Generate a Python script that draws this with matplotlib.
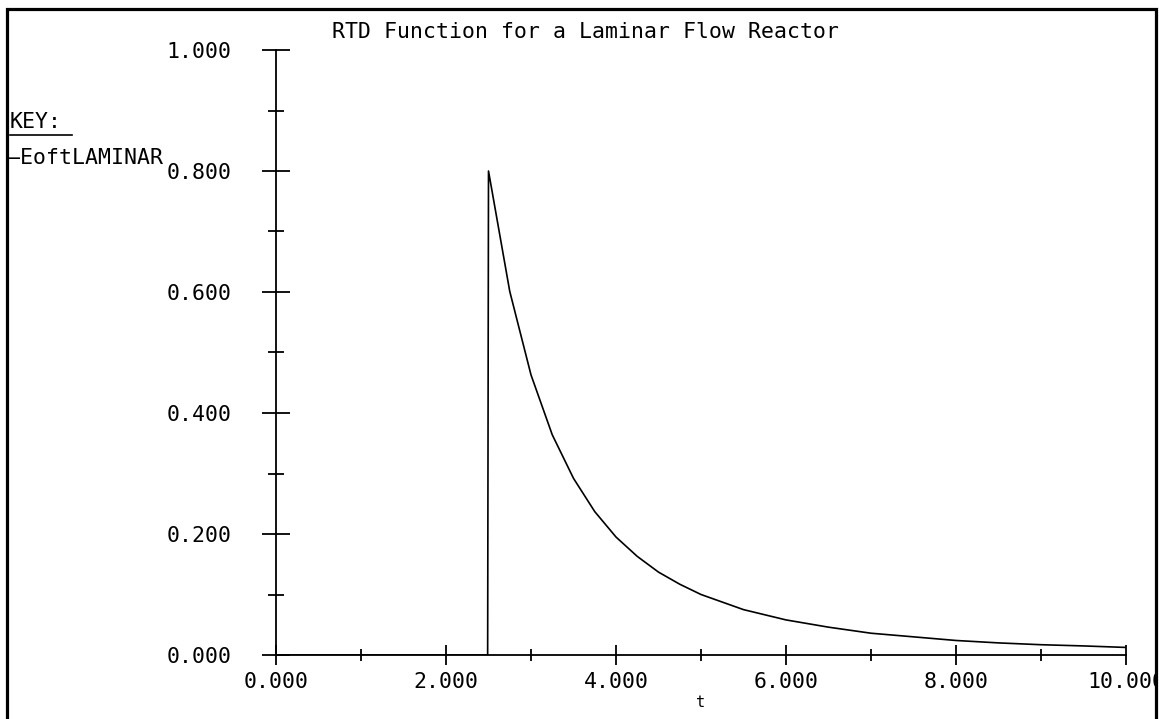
import matplotlib
matplotlib.use("Agg")
import matplotlib.pyplot as plt
from matplotlib.patches import Rectangle
from matplotlib.ticker import MultipleLocator, FormatStrFormatter

# values
t = [0.0, 2.49, 2.5, 2.75, 3.0, 3.25, 3.5, 3.75, 4.0, 4.25, 4.5, 4.75, 5.0,
     5.5, 6.0, 6.5, 7.0, 7.5, 8.0, 8.5, 9.0, 9.5, 10.0]
E = [0.0, 0.0, 0.800, 0.601, 0.463, 0.364, 0.292, 0.237, 0.195, 0.163, 0.137,
     0.117, 0.100, 0.075, 0.058, 0.046, 0.036, 0.030, 0.024, 0.020, 0.017,
     0.015, 0.0125]

title = "RTD Function for a Laminar Flow Reactor"
series_name = "EoftLAMINAR"
xlabel = "t"

font = "DejaVu Sans Mono"
fs = 15.5

W, H = 1159, 719
fig = plt.figure(figsize=(W/100, H/100), dpi=100)
ax = fig.add_axes([276/W, 64/H, 850/W, 605/H])

ax.plot(t, E, color="black", lw=1.2)

ax.set_xlim(0, 10)
ax.set_ylim(0, 1)
ax.spines["top"].set_visible(False)
ax.spines["right"].set_visible(False)
ax.spines["left"].set_linewidth(1.3)
ax.spines["bottom"].set_linewidth(1.3)

ax.xaxis.set_major_locator(MultipleLocator(2))
ax.xaxis.set_minor_locator(MultipleLocator(1))
ax.yaxis.set_major_locator(MultipleLocator(0.2))
ax.yaxis.set_minor_locator(MultipleLocator(0.1))
ax.xaxis.set_major_formatter(FormatStrFormatter("%.3f"))
ax.yaxis.set_major_formatter(FormatStrFormatter("%.3f"))

ax.tick_params(axis="y", which="major", direction="inout", length=20, width=1.3,
               pad=22, labelsize=fs)
ax.tick_params(axis="y", which="minor", direction="inout", length=12, width=1.3)
ax.tick_params(axis="x", which="major", direction="inout", length=15, width=1.3,
               pad=5, labelsize=fs)
ax.tick_params(axis="x", which="minor", direction="inout", length=8, width=1.3)
for lab in ax.get_xticklabels() + ax.get_yticklabels():
    lab.set_family(font)

ax.set_xlabel(xlabel, family=font, fontsize=11, labelpad=2)
fig.text(586/W, 1 - 38/H, title, family=font, fontsize=fs, ha="center", va="baseline")

# key in the upper left corner
fig.text(10/W, 1 - 128/H, "KEY:", family=font, fontsize=fs, va="baseline")
fig.add_artist(plt.Line2D([10/W, 72/W], [1 - 135/H, 1 - 135/H], color="black", lw=1.2))
fig.text(7/W, 1 - 164/H, "\u2014" + series_name, family=font, fontsize=fs,
         va="baseline")

# frame on left, top and right; the right edge cuts the last tick label like the original
fig.add_artist(Rectangle((1155/W, 0), 4/W, 1, transform=fig.transFigure,
                         facecolor="white", edgecolor="none", zorder=10))
fig.add_artist(plt.Line2D([7/W, 7/W, 1156/W, 1156/W], [0, 1 - 9/H, 1 - 9/H, 0],
                          color="black", lw=2.3, zorder=11,
                          solid_joinstyle="miter"))

fig.savefig("out.png", dpi=100)
